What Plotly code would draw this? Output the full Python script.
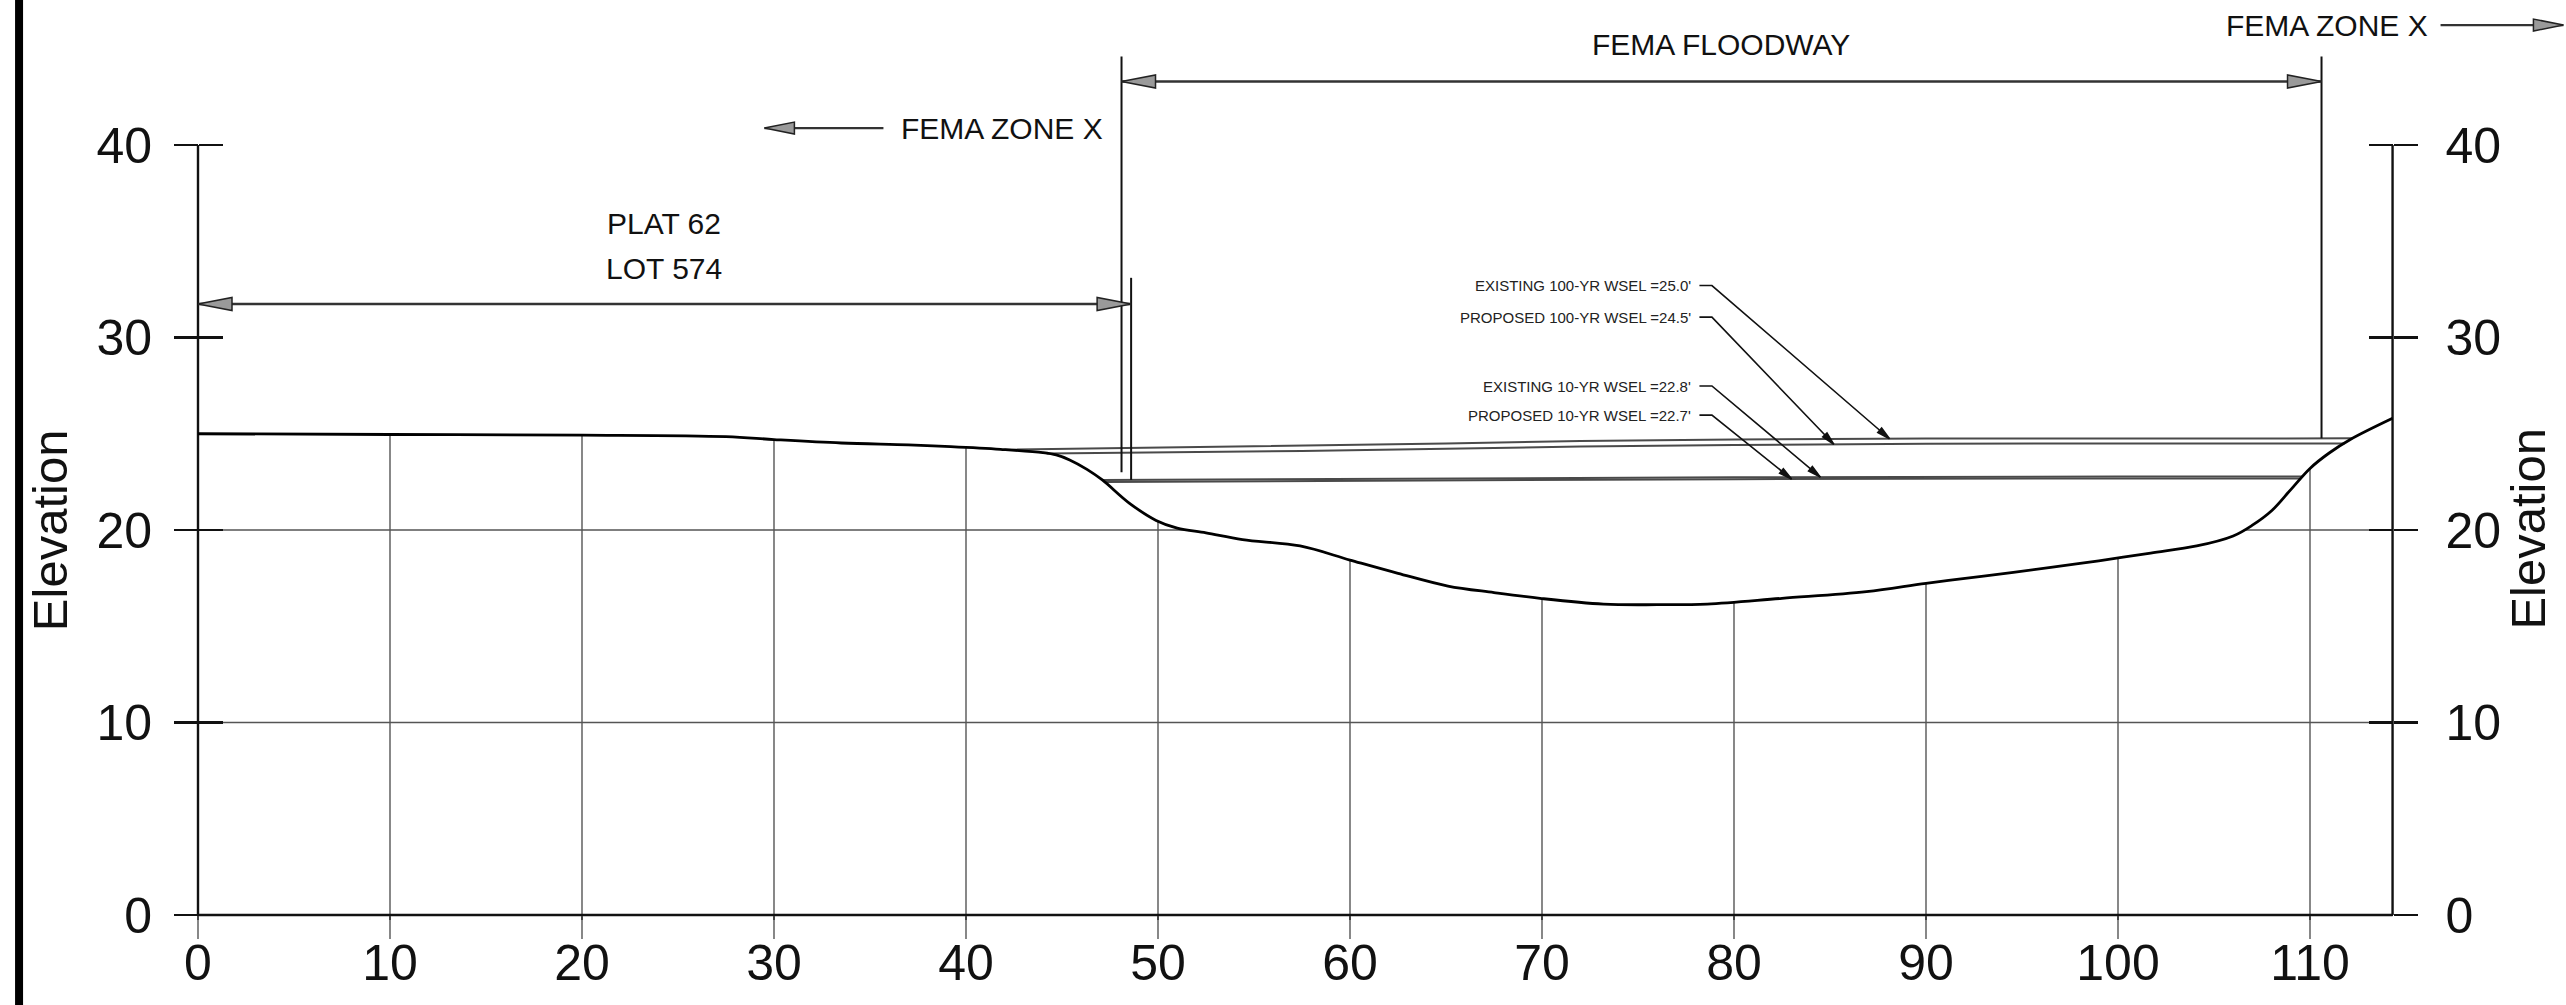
import numpy as np
import plotly.graph_objects as go

# ---------------- data ----------------
station = [0, 10, 20, 27.5, 30, 33.5, 37, 39.2, 41.8, 44.0, 44.7, 45.4, 46.3, 47.1, 48.5, 49.9,
           51.0, 52.5, 54.4, 57.4, 60.0, 62.5, 65.1, 67.5, 69.9, 73.2, 76.0, 78.6, 82.5, 86.9,
           90.0, 93.0, 96.5, 99.0, 101.7, 104.1, 106.0, 107.0, 108.0, 109.0, 110.0, 111.0, 112.1, 114.3]
elevation = [25.0, 24.96, 24.93, 24.85, 24.7, 24.52, 24.42, 24.33, 24.19, 24.02, 23.9, 23.64, 23.15, 22.6, 21.4, 20.5,
             20.1, 19.85, 19.5, 19.17, 18.44, 17.75, 17.09, 16.75, 16.45, 16.15, 16.12, 16.15, 16.45, 16.8,
             17.23, 17.6, 18.06, 18.4, 18.8, 19.17, 19.69, 20.25, 21.0, 22.1, 23.2, 24.0, 24.7, 25.8]

ex100_x = [42.0, 50, 57.5, 65, 72, 80, 90, 100, 112.2]
ex100_y = [24.17, 24.28, 24.36, 24.5, 24.62, 24.7, 24.75, 24.76, 24.76]
pr100_x = [44.2, 50, 57.5, 65, 72, 80, 90, 100, 111.8]
pr100_y = [23.98, 24.03, 24.1, 24.22, 24.34, 24.42, 24.48, 24.5, 24.5]
ex10_x = [47.1, 60, 80, 100, 109.6]
ex10_y = [22.6, 22.66, 22.74, 22.78, 22.78]
pr10_x = [47.2, 60, 80, 100, 109.5]
pr10_y = [22.5, 22.56, 22.64, 22.68, 22.68]

x_ticks = [0, 10, 20, 30, 40, 50, 60, 70, 80, 90, 100, 110]
y_ticks = [0, 10, 20, 30, 40]
x_axis_end = 114.3
y_axis_end = 40

floodway_left = 48.1
floodway_right = 110.6
lot_right = 48.6

callout_text = ["EXISTING 100-YR WSEL =25.0'", "PROPOSED 100-YR WSEL =24.5'",
                "EXISTING 10-YR WSEL =22.8'", "PROPOSED 10-YR WSEL =22.7'"]
callout_label_y = [32.7, 31.06, 27.48, 25.97]
callout_tip_x = [88.1, 85.2, 84.5, 83.0]

# ---------------- layout geometry ----------------
W, H = 2566, 1005
PX_X, PX_Y = 19.2, 19.25
X0PX, Y0PX = 198, 915
XL, XH = -X0PX / PX_X, (W - X0PX) / PX_X
YL, YH = -(H - Y0PX) / PX_Y, Y0PX / PX_Y
TICK_DOWN = 24 / PX_Y

FONT = "Liberation Sans, Arial, Helvetica, sans-serif"
INK = "#111111"

fig = go.Figure()


def add_line(xs, ys, color=INK, width=2.5, shape="linear"):
    fig.add_trace(go.Scatter(x=xs, y=ys, mode="lines", hoverinfo="skip",
                             line=dict(color=color, width=width, shape=shape)))


def arrow_head(tx, ty, dx, dy, length=34, width=13, fill="#9a9a9a", edge="#222222"):
    vx, vy = dx * PX_X, dy * PX_Y
    n = np.hypot(vx, vy)
    ux, uy = vx / n, vy / n
    bx, by = -length * ux, -length * uy
    px, py = -uy * width / 2, ux * width / 2
    xs = [tx, tx + (bx + px) / PX_X, tx + (bx - px) / PX_X, tx]
    ys = [ty, ty + (by + py) / PX_Y, ty + (by - py) / PX_Y, ty]
    fig.add_trace(go.Scatter(x=xs, y=ys, mode="lines", fill="toself", fillcolor=fill,
                             hoverinfo="skip", line=dict(color=edge, width=1.5)))


# page border
add_line([-9.32, -9.32], [YL, YH], color="#000000", width=8)

# gridlines clipped to ground (vertical ones also extend below the axis as ticks)
st = np.array(station, dtype=float)
el = np.array(elevation, dtype=float)
gx, gy = [], []
for xt in x_ticks:
    top = 0 if xt == 0 else float(np.interp(xt, st, el))
    gx += [xt, xt, None]
    gy += [-TICK_DOWN, top, None]
dense = np.linspace(0, x_axis_end, 6000)
dense_el = np.interp(dense, st, el)
for yt in y_ticks[1:]:
    mask = dense_el > yt
    if not mask.any():
        continue
    idx = np.flatnonzero(np.diff(np.concatenate([[0], mask.astype(int), [0]])))
    for a, b in zip(idx[::2], idx[1::2]):
        gx += [dense[a], dense[b - 1], None]
        gy += [yt, yt, None]
add_line(gx, gy, color="#555555", width=1.4)

# axes lines
add_line([0, x_axis_end], [0, 0], width=2.6)
add_line([0, 0], [0, y_axis_end], width=2.4)
add_line([x_axis_end, x_axis_end], [0, y_axis_end], width=2.4)

# water surfaces
for wx, wy in [(ex100_x, ex100_y), (pr100_x, pr100_y), (ex10_x, ex10_y), (pr10_x, pr10_y)]:
    add_line(wx, wy, color="#4a4a4a", width=2.0)

# terrain
add_line(station, elevation, color="#000000", width=2.8, shape="spline")

# FEMA floodway limits and dimension arrows
fw_y = 43.3
add_line([floodway_left, floodway_left], [44.6, 23.0], width=2.0)
add_line([floodway_right, floodway_right], [44.6, 24.76], width=2.0)
add_line([lot_right, lot_right], [33.1, 22.6], width=2.0)
add_line([floodway_left, floodway_right], [fw_y, fw_y], color="#333333", width=2.6)
arrow_head(floodway_left, fw_y, -1, 0)
arrow_head(floodway_right, fw_y, 1, 0)

lot_y = 31.74
add_line([0, lot_right], [lot_y, lot_y], color="#333333", width=2.6)
arrow_head(0, lot_y, -1, 0)
arrow_head(lot_right, lot_y, 1, 0)

# zone X arrows
zl_y = 40.88
add_line([35.7, 29.5], [zl_y, zl_y], color="#333333", width=2.2)
arrow_head(29.5, zl_y, -1, 0, length=30, width=12)
zr_y = 46.23
add_line([116.8, 123.2], [zr_y, zr_y], color="#333333", width=2.2)
arrow_head(123.2, zr_y, 1, 0, length=30, width=12)

# callouts
water_by_label = [(ex100_x, ex100_y), (pr100_x, pr100_y), (ex10_x, ex10_y), (pr10_x, pr10_y)]
annotations = []
for txt, ly, tx, (wx, wy) in zip(callout_text, callout_label_y, callout_tip_x, water_by_label):
    ty = float(np.interp(tx, wx, wy))
    add_line([78.2, 78.85, tx], [ly, ly, ty], color="#111111", width=1.6)
    arrow_head(tx, ty, tx - 78.85, ty - ly, length=13, width=6, fill="#111111", edge="#111111")
    annotations.append(dict(x=77.85, y=ly, xref="x", yref="y", text=txt, showarrow=False,
                            xanchor="right", yanchor="middle",
                            font=dict(family=FONT, size=15, color="#222222")))

annotations += [
    dict(x=79.3, y=45.2, text="FEMA FLOODWAY", xanchor="center", yanchor="middle",
         font=dict(family=FONT, size=30, color=INK)),
    dict(x=47.24, y=zl_y, text="FEMA ZONE X", xanchor="right", yanchor="middle",
         font=dict(family=FONT, size=30, color=INK)),
    dict(x=116.25, y=zr_y, text="FEMA ZONE X", xanchor="right", yanchor="middle",
         font=dict(family=FONT, size=30, color=INK)),
    dict(x=24.27, y=35.9, text="PLAT 62", xanchor="center", yanchor="middle",
         font=dict(family=FONT, size=30, color=INK)),
    dict(x=24.27, y=33.56, text="LOT 574", xanchor="center", yanchor="middle",
         font=dict(family=FONT, size=30, color=INK)),
    dict(x=-7.7, y=20.0, text="Elevation", textangle=-90, xanchor="center", yanchor="middle",
         font=dict(family=FONT, size=49, color=INK)),
    dict(x=121.35, y=20.07, text="Elevation", textangle=-90, xanchor="center", yanchor="middle",
         font=dict(family=FONT, size=49, color=INK)),
    dict(x=54.3, y=(Y0PX - 999) / PX_Y, text="Station", xanchor="left", yanchor="top",
         font=dict(family=FONT, size=50, color=INK)),
]
for a in annotations:
    a.setdefault("xref", "x")
    a.setdefault("yref", "y")
    a.setdefault("showarrow", False)

# dummy traces for overlay axes
for ax in ["y2", "y3", "y4"]:
    fig.add_trace(go.Scatter(x=[None], y=[None], yaxis=ax, mode="lines", hoverinfo="skip"))

tickfont = dict(family=FONT, size=50, color=INK)
ybase = dict(range=[YL, YH], domain=[0, 1], anchor="free", tickmode="array", tickvals=y_ticks,
             ticktext=[str(v) for v in y_ticks], showgrid=False, zeroline=False, showline=False,
             tickwidth=2.5, tickcolor=INK, ticklen=24, tickfont=tickfont)

fig.update_layout(
    width=W, height=H, margin=dict(l=0, r=0, t=0, b=0),
    plot_bgcolor="white", paper_bgcolor="white", showlegend=False,
    xaxis=dict(range=[XL, XH], domain=[0, 1], anchor="free", position=(H - Y0PX) / H,
               tickmode="array", tickvals=x_ticks, ticktext=[str(v) for v in x_ticks],
               ticks="outside", ticklen=4, tickwidth=1.4, tickcolor="#444444",
               showgrid=False, zeroline=False, showline=False, tickfont=tickfont),
    yaxis=dict(**ybase, position=X0PX / W, side="left", ticks="outside", ticklabelstandoff=12),
    yaxis2=dict(**ybase, position=X0PX / W, side="left", ticks="inside", overlaying="y",
                showticklabels=False),
    yaxis3=dict(**ybase, position=(X0PX + x_axis_end * PX_X) / W, side="right", ticks="outside",
                overlaying="y", ticklabelstandoff=18),
    yaxis4=dict(**ybase, position=(X0PX + x_axis_end * PX_X) / W, side="right", ticks="inside",
                overlaying="y", showticklabels=False),
    annotations=annotations,
)

fig.write_html("out.html", config={"displayModeBar": False, "staticPlot": True},
               post_script="document.body.style.margin='0px';document.body.style.overflow='hidden';")
